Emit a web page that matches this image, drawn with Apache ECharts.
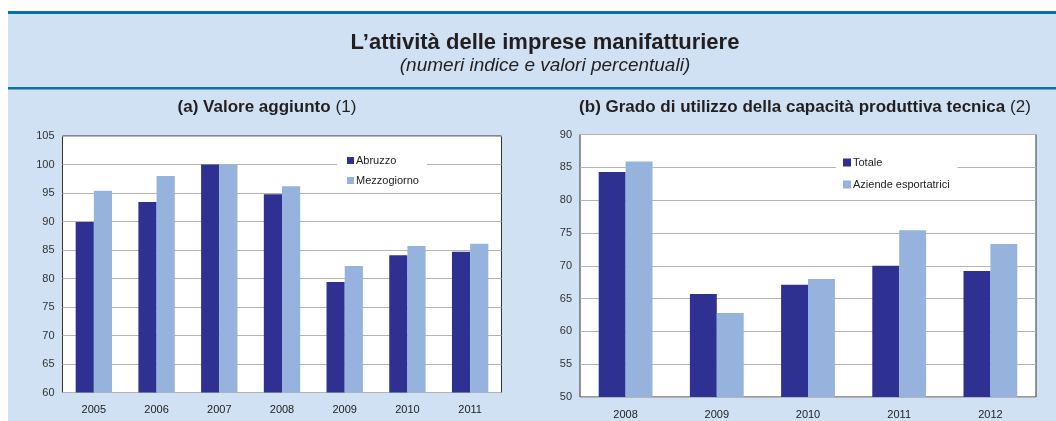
<!DOCTYPE html>
<html>
<head>
<meta charset="utf-8">
<script src="https://cdn.jsdelivr.net/npm/echarts@6/dist/echarts.min.js"></script>
<style>
  html, body { margin: 0; padding: 0; background: #fff; }
  #chart { width: 1056px; height: 421px; }
</style>
</head>
<body>
<div id="chart"></div>
<script>
// (a) valore aggiunto, numeri indice
const anniA = ['2005', '2006', '2007', '2008', '2009', '2010', '2011'];
const abruzzo = [89.9, 93.4, 100, 94.8, 79.4, 84.1, 84.7];
const mezzogiorno = [95.4, 98.0, 100, 96.2, 82.2, 85.7, 86.1];

// (b) grado di utilizzo della capacità produttiva
const anniB = ['2008', '2009', '2010', '2011', '2012'];
const totale = [84.3, 65.7, 67.1, 70.0, 69.2];
const esportatrici = [85.9, 62.8, 68.0, 75.4, 73.3];

const scuro = '#2e3192';
const chiaro = '#95b3dc';
const sfondo = '#cfe1f2';
const riga = '#0a6fb0';
const font = 'Liberation Sans, Arial, sans-serif';

const chart = echarts.init(document.getElementById('chart'));

const asseY = (min, max) => ({
    type: 'value',
    min: min,
    max: max,
    interval: 5,
    axisLine: { show: false },
    axisTick: { show: false },
    axisLabel: { color: '#333', fontSize: 11, fontFamily: font, margin: 8 },
    splitLine: { lineStyle: { color: '#b4b4b4', width: 1 } }
});

const asseX = (dati, idx) => ({
    type: 'category',
    gridIndex: idx,
    data: dati,
    axisLine: { show: false },
    axisTick: { show: false },
    axisLabel: { color: '#222', fontSize: 11, fontFamily: font, margin: 12 }
});

const titolo = { fontSize: 17, fontWeight: 'bold', color: '#231f20', fontFamily: font };
const nota = { fontSize: 17, fontWeight: 'normal', color: '#231f20', fontFamily: font };

const option = {
    backgroundColor: '#fff',
    animation: false,
    textStyle: { fontFamily: font },
    graphic: [
        { type: 'rect', shape: { x: 8, y: 12, width: 1048, height: 409 }, style: { fill: sfondo }, z: -10 },
        { type: 'rect', shape: { x: 8, y: 11, width: 1048, height: 3 }, style: { fill: riga }, z: -5 },
        { type: 'rect', shape: { x: 8, y: 87, width: 1048, height: 2.5 }, style: { fill: riga }, z: -5 }
    ],
    title: [
        {
            text: 'L\u2019attività delle imprese manifatturiere',
            subtext: '(numeri indice e valori percentuali)',
            left: 540, top: 27, textAlign: 'center', itemGap: 2,
            textStyle: { fontSize: 22, fontWeight: 'bold', color: '#231f20', fontFamily: font },
            subtextStyle: { fontSize: 19, fontStyle: 'italic', color: '#231f20', fontFamily: font }
        },
        {
            text: '{b|(a) Valore aggiunto} {n|(1)}',
            left: 262, top: 93, textAlign: 'center',
            textStyle: { rich: { b: titolo, n: nota } }
        },
        {
            text: '{b|(b) Grado di utilizzo della capacità produttiva tecnica} {n|(2)}',
            left: 800, top: 93, textAlign: 'center',
            textStyle: { rich: { b: titolo, n: nota } }
        }
    ],
    legend: [
        {
            data: ['Abruzzo', 'Mezzogiorno'],
            orient: 'vertical', left: 337, top: 153, itemGap: 9,
            itemWidth: 7, itemHeight: 7, icon: 'rect',
            backgroundColor: '#fff', padding: [2, 8, 2, 10],
            textStyle: { fontSize: 11, color: '#222', fontFamily: font, padding: [0, 0, 0, -3] }
        },
        {
            data: ['Totale', 'Aziende esportatrici'],
            orient: 'vertical', left: 836, top: 155, itemGap: 11,
            itemWidth: 8, itemHeight: 8, icon: 'rect',
            backgroundColor: '#fff', padding: [2, 8, 2, 7],
            textStyle: { fontSize: 11, color: '#222', fontFamily: font, padding: [0, 0, 0, -3] }
        }
    ],
    grid: [
        { left: 62.5, top: 136, width: 439, height: 256.5, show: true, backgroundColor: '#fff', borderColor: '#333', borderWidth: 1 },
        { left: 580, top: 134.5, width: 456, height: 262.5, show: true, backgroundColor: '#fff', borderColor: '#333', borderWidth: 1 }
    ],
    xAxis: [asseX(anniA, 0), asseX(anniB, 1)],
    yAxis: [
        Object.assign(asseY(60, 105), { gridIndex: 0 }),
        Object.assign(asseY(50, 90), { gridIndex: 1 })
    ],
    series: [
        { name: 'Abruzzo', type: 'bar', xAxisIndex: 0, yAxisIndex: 0, data: abruzzo,
          itemStyle: { color: scuro }, barGap: '0%', barCategoryGap: '42%' },
        { name: 'Mezzogiorno', type: 'bar', xAxisIndex: 0, yAxisIndex: 0, data: mezzogiorno,
          itemStyle: { color: chiaro }, barGap: '0%', barCategoryGap: '42%' },
        { name: 'Totale', type: 'bar', xAxisIndex: 1, yAxisIndex: 1, data: totale,
          itemStyle: { color: scuro }, barGap: '0%', barCategoryGap: '41%' },
        { name: 'Aziende esportatrici', type: 'bar', xAxisIndex: 1, yAxisIndex: 1, data: esportatrici,
          itemStyle: { color: chiaro }, barGap: '0%', barCategoryGap: '41%' }
    ]
};

chart.setOption(option);
</script>
</body>
</html>
